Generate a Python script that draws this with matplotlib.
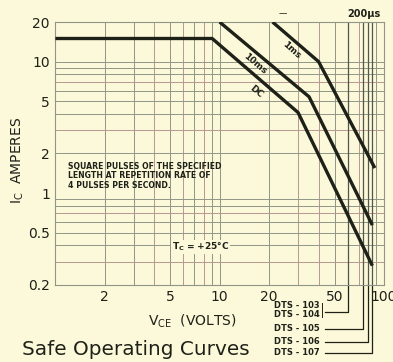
import matplotlib
matplotlib.use("Agg")
import matplotlib.pyplot as plt
import matplotlib.transforms as mtransforms
from matplotlib.ticker import FixedLocator, NullFormatter

# -----------------------------
# DATA
# -----------------------------
dc_v = [1, 9, 30, 85]
dc_i = [15, 15, 4.1, 0.28]

ms10_v = [10, 35, 85]
ms10_i = [20, 5.4, 0.57]

ms1_v = [21, 40, 88]
ms1_i = [20, 10, 1.55]

x_ticks = [2, 5, 10, 20, 50, 100]
x_labels = ["2", "5", "10", "20", "50", "100"]
y_ticks = [0.2, 0.5, 1, 2, 5, 10, 20]
y_labels = ["0.2", "0.5", "1", "2", "5", "10", "20"]

models = ["DTS - 103", "DTS - 104", "DTS - 105", "DTS - 106", "DTS - 107"]
model_vmax = [60, 60, 75, 80, 85]

# -----------------------------
# STYLE
# -----------------------------
bg = "#fcf8da"
ink = "#1e2118"
grid_gray = "#8f9686"
grid_pink = "#b79890"

fig = plt.figure(figsize=(3.93, 3.62), dpi=100, facecolor=bg)
ax = fig.add_axes([0.141, 0.213, 0.836, 0.726])
ax.set_facecolor(bg)
ax.set_xscale("log")
ax.set_yscale("log")
ax.set_xlim(1, 100)
ax.set_ylim(0.2, 20)

# grid lines drawn by hand so two inks can be used
minor_x = [m * d for d in (1, 10) for m in range(2, 10)] + [10]
pink_x = {4, 6, 8, 30, 40, 70}
for v in minor_x:
    ax.axvline(v, color=grid_pink if v in pink_x else grid_gray, lw=0.7, zorder=1)
minor_y = [m * d for d in (0.1, 1) for m in range(2, 10) if m * d >= 0.2] + [10]
pink_y = {0.3, 0.7, 3, 7}
for v in minor_y:
    ax.axhline(v, color=grid_pink if round(v, 2) in pink_y else grid_gray, lw=0.7, zorder=1)

# rated voltage lines
for v in sorted(set(model_vmax)):
    ax.axvline(v, color="#50564b", lw=0.9, zorder=2)

ax.plot(dc_v, dc_i, color=ink, lw=2.4, zorder=4, solid_capstyle="butt")
ax.plot(ms10_v, ms10_i, color=ink, lw=2.4, zorder=4, solid_capstyle="butt")
ax.plot(ms1_v, ms1_i, color=ink, lw=2.4, zorder=4, solid_capstyle="butt")

for s in ax.spines.values():
    s.set_color(grid_gray)
    s.set_linewidth(0.8)

ax.xaxis.set_major_locator(FixedLocator(x_ticks))
ax.yaxis.set_major_locator(FixedLocator(y_ticks))
ax.xaxis.set_minor_formatter(NullFormatter())
ax.yaxis.set_minor_formatter(NullFormatter())
ax.set_xticklabels(x_labels)
ax.set_yticklabels(y_labels)
ax.tick_params(which="both", length=0, labelsize=10, colors=ink, pad=4)

# axis labels
ax.text(-0.115, 0.475, r"I$_\mathregular{C}$  AMPERES", transform=ax.transAxes,
        rotation=90, ha="center", va="center", fontsize=10, color=ink)
ax.text(0.416, -0.14, r"V$_\mathregular{CE}$  (VOLTS)", transform=ax.transAxes,
        ha="center", va="center", fontsize=10, color=ink)

# curve labels
ax.text(27.5, 12.2, "1ms", rotation=-42, fontsize=6.5, fontweight="bold",
        color=ink, ha="center", va="center", zorder=5)
ax.text(16.3, 9.7, "10ms", rotation=-40, fontsize=6.5, fontweight="bold",
        color=ink, ha="center", va="center", zorder=5)
ax.text(16.6, 5.9, "DC", rotation=-40, fontsize=6.5, fontweight="bold",
        color=ink, ha="center", va="center", zorder=5)
fig.text(0.925, 0.962, "200µs", fontsize=7, fontweight="bold", color=ink,
         ha="center", va="center")
fig.text(0.72, 0.962, "—", fontsize=6, color=ink, ha="center", va="center")

ax.text(1.2, 1.72, "SQUARE PULSES OF THE SPECIFIED\nLENGTH AT REPETITION RATE OF\n"
        "4 PULSES PER SECOND.", fontsize=5.6, fontweight="bold", color=ink,
        ha="left", va="top", linespacing=1.05)
ax.text(5.1, 0.39, r"T$_\mathregular{C}$ = +25°C", fontsize=6.5, fontweight="bold",
        color=ink, ha="left", va="center",
        bbox=dict(facecolor=bg, edgecolor="none", pad=0.5), zorder=3)

# model leaders below the axis
trans = mtransforms.blended_transform_factory(ax.transData, ax.transAxes)
label_y = [-0.080, -0.112, -0.167, -0.217, -0.259]
leader_y = [-0.103, -0.103, -0.167, -0.217, -0.259]
x_left = 40.5
for name, ty in zip(models, label_y):
    ax.text(x_left, ty, name, transform=trans, fontsize=6, fontweight="bold",
            color=ink, ha="right", va="center", clip_on=False)
for v, ly in sorted(set(zip(model_vmax, leader_y))):
    ax.plot([43.5, v, v], [ly, ly, 0], transform=trans, color=ink, lw=0.9,
            clip_on=False)
# bracket joining DTS-103 and DTS-104
ax.plot([42, 42], [-0.07, -0.122], transform=trans, color=ink, lw=0.7,
        clip_on=False)

fig.text(0.056, 0.035, "Safe Operating Curves", fontsize=14.4, color=ink,
         ha="left", va="center")

fig.savefig("out.png", dpi=100, facecolor=bg)
